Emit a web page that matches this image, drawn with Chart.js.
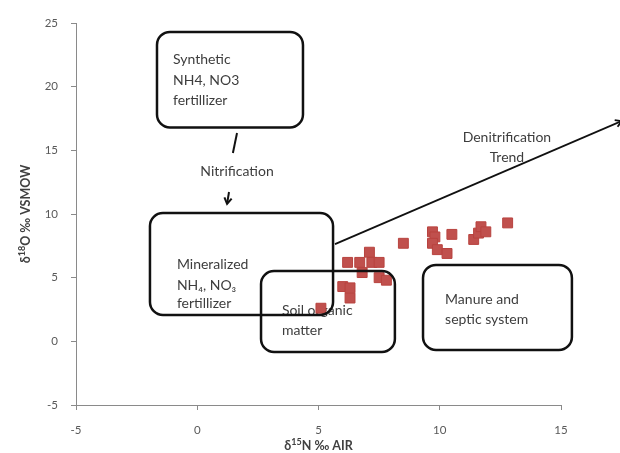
<!DOCTYPE html>
<html>
<head>
<meta charset="utf-8">
<script src="https://cdn.jsdelivr.net/npm/chart.js@4.4.1/dist/chart.umd.min.js"></script>
<style>
  html, body { margin: 0; padding: 0; background: #fff; }
</style>
</head>
<body>
<canvas id="chart" width="620" height="453"></canvas>
<script>
// Valeurs (delta15N en x, delta18O en y)
const d15N = [5.1, 6.3, 6.0, 6.3, 6.2, 6.7, 7.2, 7.5, 7.1, 6.8, 7.5, 7.8, 8.5, 9.7, 9.8, 9.7, 9.9, 10.3, 10.5, 11.4, 11.6, 11.7, 11.9, 12.8];
const d18O = [2.6, 3.4, 4.3, 4.2, 6.2, 6.2, 6.2, 6.2, 7.0, 5.4, 5.0, 4.8, 7.7, 8.6, 8.2, 7.7, 7.2, 6.9, 8.4, 8.0, 8.5, 9.0, 8.6, 9.3];
const xRange = [-5, 15];
const yRange = [-5, 25];
const tickStep = 5;
// titres des axes : [texte, exposant ?]
const xTitle = [['δ', false], ['15', true], ['N ‰ AIR', false]];
const yTitle = [['δ', false], ['18', true], ['O ‰ VSMOW', false]];

// Encadrés et flèches, en unités des axes
const boxes = [
  { x1: -1.66, y1: 24.3, x2: 4.36, y2: 16.8, tx: -1.0, ty: [22.1, 20.5, 18.95], lines: ['Synthetic', 'NH4, NO3', 'fertillizer'] },
  { x1: -1.95, y1: 10.08, x2: 5.6, y2: 2.07, tx: -0.84, ty: [6.0, 4.42, 3.01], lines: ['Mineralized', 'NH₄, NO₃', 'fertillizer'] },
  { x1: 2.63, y1: 5.52, x2: 8.15, y2: -0.84, tx: 3.49, ty: [2.46, 0.89], lines: ['Soil organic', 'matter'] },
  { x1: 9.31, y1: 6.0, x2: 15.45, y2: -0.68, tx: 10.22, ty: [3.25, 1.68], lines: ['Manure and', 'septic system'] }
];
const labels = [
  { x: 1.64, y: 13.3, text: 'Nitrification' },
  { x: 12.77, y: 15.97, text: 'Denitrification' },
  { x: 12.77, y: 14.4, text: 'Trend' }
];
const segments = [
  { from: [1.64, 16.36], to: [1.47, 14.79], head: false, width: 2 },
  { from: [1.31, 11.73], to: [1.23, 10.79], head: true, width: 2 },
  { from: [5.68, 7.64], to: [17.5, 17.3], head: true, width: 1.8 }
];

const FONT = 'Lato, "Open Sans", sans-serif';
const textColor = '#3d3d3d';

function roundRect(ctx, x, y, w, h, r) {
  ctx.beginPath();
  ctx.moveTo(x + r, y);
  ctx.arcTo(x + w, y, x + w, y + h, r);
  ctx.arcTo(x + w, y + h, x, y + h, r);
  ctx.arcTo(x, y + h, x, y, r);
  ctx.arcTo(x, y, x + w, y, r);
  ctx.closePath();
}

// texte avec exposants, centré sur (0,0) dans le repère courant
function drawRich(ctx, parts) {
  const big = 'bold 12.5px ' + FONT, small = 'bold 9px ' + FONT;
  let total = 0;
  parts.forEach(p => { ctx.font = p[1] ? small : big; total += ctx.measureText(p[0]).width; });
  let cx = -total / 2;
  ctx.textAlign = 'left';
  ctx.textBaseline = 'alphabetic';
  parts.forEach(p => {
    ctx.font = p[1] ? small : big;
    ctx.fillText(p[0], cx, p[1] ? 0 : 4.5);
    cx += ctx.measureText(p[0]).width;
  });
}

const annotationPlugin = {
  id: 'annotations',
  beforeDatasetsDraw(chart) {
    const { ctx, scales: { x, y } } = chart;
    ctx.save();
    ctx.fillStyle = textColor;
    ctx.font = '14px ' + FONT;
    ctx.textBaseline = 'middle';
    ctx.textAlign = 'left';
    boxes.forEach(b => {
      b.lines.forEach((t, i) => ctx.fillText(t, x.getPixelForValue(b.tx), y.getPixelForValue(b.ty[i])));
    });
    ctx.textAlign = 'center';
    labels.forEach(l => ctx.fillText(l.text, x.getPixelForValue(l.x), y.getPixelForValue(l.y)));
    ctx.restore();
  },
  afterDatasetsDraw(chart) {
    const { ctx, scales: { x, y } } = chart;
    ctx.save();
    ctx.strokeStyle = '#111';
    ctx.lineWidth = 2.5;
    boxes.forEach(b => {
      const px1 = x.getPixelForValue(b.x1), px2 = x.getPixelForValue(b.x2);
      const py1 = y.getPixelForValue(b.y1), py2 = y.getPixelForValue(b.y2);
      roundRect(ctx, px1, py1, px2 - px1, py2 - py1, 13);
      ctx.stroke();
    });
    segments.forEach(s => {
      const ax = x.getPixelForValue(s.from[0]), ay = y.getPixelForValue(s.from[1]);
      const bx = x.getPixelForValue(s.to[0]), by = y.getPixelForValue(s.to[1]);
      ctx.lineWidth = s.width;
      ctx.beginPath();
      ctx.moveTo(ax, ay);
      ctx.lineTo(bx, by);
      ctx.stroke();
      if (s.head) {
        const ang = Math.atan2(by - ay, bx - ax);
        const len = 7, spread = 0.55;
        ctx.beginPath();
        ctx.moveTo(bx - len * Math.cos(ang - spread), by - len * Math.sin(ang - spread));
        ctx.lineTo(bx, by);
        ctx.lineTo(bx - len * Math.cos(ang + spread), by - len * Math.sin(ang + spread));
        ctx.stroke();
      }
    });
    ctx.restore();
  },
  afterDraw(chart) {
    const { ctx, chartArea } = chart;
    ctx.save();
    ctx.fillStyle = '#404040';
    // titre axe x
    ctx.save();
    ctx.translate((chartArea.left + chartArea.right) / 2, chart.height - 8);
    drawRich(ctx, xTitle);
    ctx.restore();
    // titre axe y
    ctx.save();
    ctx.translate(25, (chartArea.top + chartArea.bottom) / 2);
    ctx.rotate(-Math.PI / 2);
    drawRich(ctx, yTitle);
    ctx.restore();
    ctx.restore();
  }
};

const axisColor = '#8a8a8a';
const tickFont = { family: FONT, size: 11.5 };

new Chart(document.getElementById('chart'), {
  type: 'scatter',
  data: {
    datasets: [{
      data: d15N.map((v, i) => ({ x: v, y: d18O[i] })),
      pointStyle: 'rect',
      pointRadius: 7,
      backgroundColor: '#c0504d',
      borderColor: '#b8433f',
      borderWidth: 1
    }]
  },
  options: {
    responsive: false,
    animation: false,
    layout: { padding: { top: 23, right: 59, left: 0, bottom: 0 } },
    plugins: { legend: { display: false }, tooltip: { enabled: false } },
    scales: {
      x: {
        type: 'linear',
        min: xRange[0], max: xRange[1],
        ticks: { stepSize: tickStep, padding: 13, color: '#595959', font: tickFont },
        grid: { drawOnChartArea: false, tickLength: 5, color: axisColor },
        border: { color: axisColor, width: 1 },
        afterFit(scale) { scale.height = 48; }
      },
      y: {
        type: 'linear',
        min: yRange[0], max: yRange[1],
        ticks: { stepSize: tickStep, padding: 13, color: '#595959', font: tickFont },
        grid: { drawOnChartArea: false, tickLength: 5, color: axisColor },
        border: { color: axisColor, width: 1 },
        afterFit(scale) { scale.width = 76; }
      }
    }
  },
  plugins: [annotationPlugin]
});
</script>
</body>
</html>
